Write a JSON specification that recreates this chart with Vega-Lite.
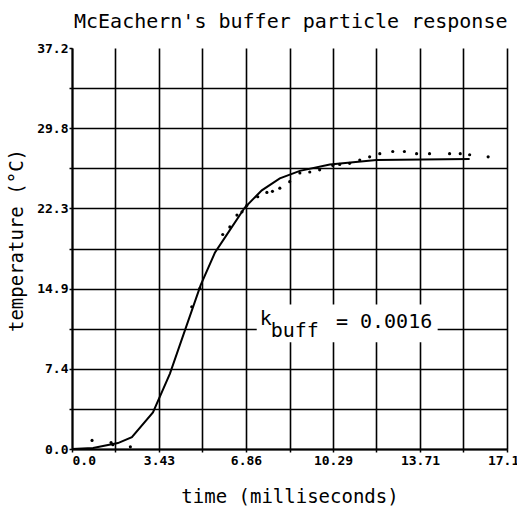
{
  "$schema": "https://vega.github.io/schema/vega-lite/v6.json",
  "width": 435,
  "height": 401,
  "autosize": {"type": "none"},
  "padding": {"left": 72, "top": 48, "right": 10, "bottom": 61},
  "background": "white",
  "title": {
    "text": "McEachern's buffer particle response",
    "anchor": "start",
    "frame": "group",
    "font": "DejaVu Sans Mono",
    "fontSize": 20,
    "fontWeight": "normal",
    "color": "black",
    "baseline": "bottom",
    "offset": -10,
    "dx": 2
  },
  "config": {
    "view": {"stroke": null},
    "axis": {
      "domainColor": "black",
      "domainWidth": 2,
      "gridColor": "black",
      "gridWidth": 1.6,
      "gridOpacity": 1,
      "tickColor": "black",
      "tickWidth": 1.5,
      "tickSize": 3,
      "labelFont": "DejaVu Sans Mono",
      "labelFontSize": 13,
      "labelFontWeight": "bold",
      "labelColor": "black",
      "labelFlush": false,
      "labelOverlap": false,
      "titleFont": "DejaVu Sans Mono",
      "titleFontSize": 19,
      "titleFontWeight": "normal",
      "titleColor": "black"
    }
  },
  "datasets": {
    "curve": [
      {"time": 0, "temp": 0},
      {"time": 0.83, "temp": 0.1},
      {"time": 1.81, "temp": 0.55},
      {"time": 2.36, "temp": 1.1},
      {"time": 3.19, "temp": 3.4},
      {"time": 3.86, "temp": 7.0},
      {"time": 4.45, "temp": 11.0},
      {"time": 5.07, "temp": 15.2},
      {"time": 5.63, "temp": 18.2},
      {"time": 6.22, "temp": 20.3},
      {"time": 6.81, "temp": 22.4},
      {"time": 7.48, "temp": 24.0},
      {"time": 8.19, "temp": 25.1},
      {"time": 8.98, "temp": 25.8},
      {"time": 10.16, "temp": 26.4},
      {"time": 12.0, "temp": 26.8},
      {"time": 15.67, "temp": 26.9}
    ],
    "measured": [
      {"time": 0.79, "temp": 0.8},
      {"time": 1.54, "temp": 0.6},
      {"time": 1.61, "temp": 0.4},
      {"time": 2.3, "temp": 0.2},
      {"time": 4.72, "temp": 13.2},
      {"time": 5.04, "temp": 14.9},
      {"time": 5.94, "temp": 19.9},
      {"time": 6.22, "temp": 20.6},
      {"time": 6.5, "temp": 21.7},
      {"time": 6.7, "temp": 22.0},
      {"time": 6.89, "temp": 22.6},
      {"time": 7.32, "temp": 23.4},
      {"time": 7.68, "temp": 23.8},
      {"time": 7.9, "temp": 23.9},
      {"time": 8.19, "temp": 24.2},
      {"time": 8.58, "temp": 24.8},
      {"time": 8.98, "temp": 25.6},
      {"time": 9.37, "temp": 25.7},
      {"time": 9.76, "temp": 25.9},
      {"time": 10.28, "temp": 26.3},
      {"time": 10.55, "temp": 26.4},
      {"time": 10.94, "temp": 26.5},
      {"time": 11.34, "temp": 26.8},
      {"time": 11.73, "temp": 27.1},
      {"time": 12.13, "temp": 27.4},
      {"time": 12.64, "temp": 27.6},
      {"time": 13.1, "temp": 27.6},
      {"time": 13.58, "temp": 27.4},
      {"time": 14.09, "temp": 27.4},
      {"time": 14.88, "temp": 27.4},
      {"time": 15.3, "temp": 27.4},
      {"time": 15.67, "temp": 27.3},
      {"time": 16.4, "temp": 27.1}
    ],
    "notebox": [
      {"x1": 7.28, "x2": 14.41, "y1": 9.9, "y2": 13.4}
    ],
    "notetext": [
      {"time": 7.4, "temp": 11.5, "label": "k"},
      {"time": 7.83, "temp": 10.4, "label": "buff"},
      {"time": 10.4, "temp": 11.2, "label": "= 0.0016"}
    ]
  },
  "layer": [
    {
      "data": {"name": "curve"},
      "mark": {"type": "line", "color": "black", "strokeWidth": 2, "clip": true},
      "encoding": {
        "x": {
          "field": "time",
          "type": "quantitative",
          "scale": {"domain": [0, 17.1428572], "nice": false, "zero": false},
          "axis": {
            "title": "time (milliseconds)",
            "values": [0, 1.7142857, 3.4285714, 5.1428571, 6.8571429, 8.5714286, 10.2857143, 12, 13.7142857, 15.4285714, 17.1428571],
            "labelExpr": "datum.value == 0 ? '0.0' : (round(datum.value / 1.7142857) % 2 == 0 ? format(datum.value, '.2f') : '')",
            "labelAlign": {"condition": {"test": "datum.value == 0", "value": "left"}, "value": "center"},
            "labelPadding": 2,
            "titlePadding": 20,
            "grid": true
          }
        },
        "y": {
          "field": "temp",
          "type": "quantitative",
          "scale": {"domain": [0, 37.2], "nice": false, "zero": true},
          "axis": {
            "title": "temperature (°C)",
            "values": [0, 3.72, 7.44, 11.16, 14.88, 18.6, 22.32, 26.04, 29.76, 33.48, 37.2],
            "labelExpr": "round(datum.value / 3.72) % 2 == 0 ? format(datum.value, '.1f') : ''",
            "labelPadding": 1,
            "titlePadding": 10,
            "titleY": 192,
            "grid": true,
            "gridOpacity": {"condition": {"test": "datum.value > 37", "value": 0}, "value": 1}
          }
        }
      }
    },
    {
      "data": {"name": "measured"},
      "mark": {"type": "circle", "color": "black", "size": 10, "opacity": 1},
      "encoding": {
        "x": {"field": "time", "type": "quantitative"},
        "y": {"field": "temp", "type": "quantitative"}
      }
    },
    {
      "data": {"name": "notebox"},
      "mark": {"type": "rect", "fill": "white"},
      "encoding": {
        "x": {"field": "x1", "type": "quantitative"},
        "x2": {"field": "x2"},
        "y": {"field": "y1", "type": "quantitative"},
        "y2": {"field": "y2"}
      }
    },
    {
      "data": {"name": "notetext"},
      "mark": {"type": "text", "font": "DejaVu Sans Mono", "fontSize": 20, "align": "left", "baseline": "alphabetic", "color": "black"},
      "encoding": {
        "x": {"field": "time", "type": "quantitative"},
        "y": {"field": "temp", "type": "quantitative"},
        "text": {"field": "label"}
      }
    }
  ]
}
